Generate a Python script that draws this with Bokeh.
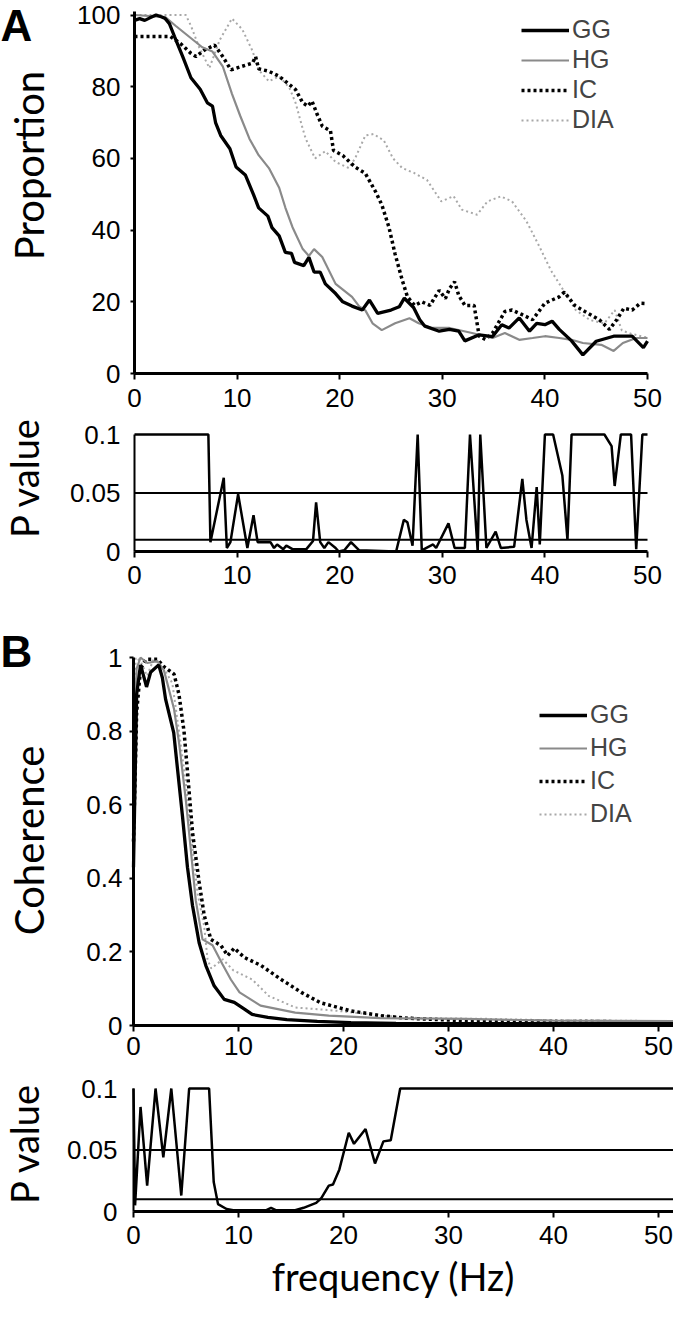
import math
from bokeh.plotting import figure
from bokeh.layouts import column
from bokeh.models import (Range1d, FixedTicker, Legend, LegendItem, Label,
                          CustomJSTickFormatter)
from bokeh.embed import file_html
from bokeh.resources import INLINE

# ---------------- data (frequency, value) ----------------
series_names = ["GG", "HG", "IC", "DIA"]

a_gg = [(0, 98.5), (0.5, 99), (1, 98.5), (1.5, 99.2), (2.1, 100), (2.6, 99.5), (3.0, 99),
        (3.4, 97.6), (3.9, 94), (4.7, 88.4), (5.5, 82.5), (6.4, 79.3), (7.1, 75.5), (7.6, 74.6),
        (7.9, 70), (8.4, 66.4), (9.3, 62.7), (9.9, 57.6), (10.8, 55.4), (11.6, 49.9), (12.1, 46.2),
        (13.0, 43.9), (13.4, 40.7), (14.1, 38.4), (14.7, 33.8), (15.3, 33.5), (15.6, 31),
        (16.5, 30.1), (17.0, 32.4), (17.5, 28.3), (18.1, 28.3), (18.6, 25), (19.6, 22.3),
        (20.3, 20), (21.2, 18.8), (22.2, 17.7), (22.9, 20.5), (23.7, 16.8), (25.0, 17.7),
        (25.8, 18.6), (26.3, 21), (27.2, 18.4), (27.8, 15), (28.3, 13.2), (29.7, 11.8),
        (30.7, 12.3), (31.6, 11.8), (32.2, 9.1), (33.6, 10.8), (34.9, 10.3), (35.8, 13.6),
        (36.5, 12.7), (37.5, 15.5), (38.5, 11.8), (39.2, 14), (40.0, 13.6), (40.7, 14.6),
        (41.4, 12.3), (42.6, 9.1), (43.7, 5.2), (45.0, 9), (46.7, 10.4), (48.5, 10.4),
        (49.6, 7.2), (50, 9)]
a_hg = [(0, 100), (3.0, 99.4), (4.0, 97), (5.3, 94), (6.6, 91), (7.6, 89.8), (8.6, 85.7),
        (9.5, 78), (10.3, 71.9), (11.2, 65.5), (12.1, 60.9), (13.1, 57.3), (14.1, 51.8),
        (14.7, 46.3), (15.4, 40.8), (16.4, 34.7), (17.0, 32.8), (17.5, 34.7), (18.3, 32.5),
        (19.6, 25), (21.2, 21.4), (21.9, 18.7), (22.5, 17.6), (23.2, 14), (24.1, 12.1),
        (25.4, 14), (26.8, 15.4), (27.7, 14), (29.0, 12.7), (30.7, 12.7), (32.9, 11.3),
        (34.9, 9.9), (36.1, 11.3), (37.5, 9.4), (38.8, 9.9), (40.0, 10.4), (41.4, 9.9),
        (42.6, 9.4), (43.7, 8.5), (45.5, 8), (46.7, 6.3), (47.6, 8.5), (48.9, 9.9), (50, 9.9)]
a_ic = [(0, 94), (3.5, 94), (4.5, 92), (5.5, 89.3), (6.0, 88.4), (6.8, 90.2), (7.8, 91.6),
        (8.6, 88.4), (9.4, 84.7), (10.5, 85.7), (11.5, 86.6), (11.8, 88.4), (12.1, 85),
        (13.1, 84.3), (14.1, 82.9), (15.1, 80.6), (15.7, 79.2), (16.4, 75.5), (16.9, 74.6),
        (17.3, 76), (17.8, 72.3), (18.3, 69), (19.1, 67.7), (19.4, 62.2), (20.3, 60.8),
        (21.5, 57.6), (22.5, 55.8), (23.5, 50.7), (24.1, 47.1), (24.8, 40.8), (25.4, 33.3),
        (26.1, 26), (26.6, 21.4), (27.3, 19), (28.0, 20), (28.8, 19), (29.7, 23.2),
        (30.3, 20.9), (30.7, 23.7), (31.2, 25.6), (31.6, 21.8), (32.2, 19), (33.1, 19),
        (33.6, 10.4), (34.2, 9.5), (34.9, 11.3), (36.1, 17.3), (36.8, 17.7), (37.8, 16.4),
        (38.8, 15), (40.0, 19.6), (41.4, 21.4), (41.9, 22.7), (42.9, 19), (43.9, 17.3),
        (45.3, 15), (46.3, 12.3), (47.0, 15), (47.7, 18.2), (48.5, 17.7), (49.3, 19.6),
        (50, 19.5)]
a_dia = [(0, 100), (5.0, 100), (5.5, 97), (6.3, 91), (7.3, 85.2), (8.3, 93), (9.5, 99),
         (10.5, 96), (11.5, 90), (12.1, 84.7), (13.1, 81.5), (14.1, 82.9), (15.1, 79.7),
         (15.7, 75.5), (16.4, 68.2), (16.7, 65.4), (17.6, 60), (18.6, 62), (19.6, 59),
         (20.9, 57.3), (21.5, 60), (22.5, 66.4), (23.3, 66.8), (24.3, 65), (25.2, 60),
         (26.1, 57.3), (27.2, 56), (28.5, 54), (29.9, 48), (31.1, 49.5), (31.9, 45.7),
         (33.4, 44.3), (34.4, 48), (35.7, 49.4), (36.8, 48), (38.2, 42.5), (39.5, 35.2),
         (40.6, 28.7), (42.0, 22.3), (43.0, 17.7), (44.4, 14.9), (45.8, 14), (46.8, 17.7),
         (47.5, 12), (48.5, 11), (50, 10)]
a_pval = [(0, 0.1), (7.2, 0.1), (7.4, 0.008), (8.7, 0.063), (9.0, 0.003), (9.35, 0.008),
          (10.1, 0.049), (11.0, 0.003), (11.6, 0.031), (12.0, 0.008), (13.25, 0.008),
          (13.6, 0.003), (13.9, 0.006), (14.5, 0.002), (14.8, 0.005), (15.4, 0.002),
          (16.75, 0.002), (17.4, 0.009), (17.7, 0.042), (18.1, 0.008), (18.5, 0.003),
          (18.9, 0.008), (19.6, 0.003), (19.9, 0.0), (20.45, 0.001), (21.1, 0.008),
          (21.9, 0.001), (25.5, 0.0), (26.25, 0.027), (26.6, 0.025), (27.1, 0.005),
          (27.6, 0.1), (28.0, 0.001), (29.1, 0.006), (29.4, 0.003), (30.6, 0.024),
          (31.2, 0.003), (32.2, 0.003), (32.7, 0.1), (33.45, 0.0), (33.7, 0.1), (34.3, 0.003),
          (35.2, 0.017), (35.7, 0.003), (37.0, 0.004), (37.8, 0.062), (38.2, 0.027),
          (38.7, 0.003), (39.2, 0.055), (39.5, 0.006), (40.0, 0.1), (40.8, 0.1), (41.7, 0.065),
          (42.2, 0.01), (42.6, 0.1), (45.8, 0.1), (46.5, 0.09), (46.8, 0.056), (47.4, 0.1),
          (48.4, 0.1), (48.9, 0.002), (49.5, 0.1), (50, 0.1)]

b_gg = [(0, 0.43), (0.3, 0.9), (0.67, 0.98), (0.96, 0.95), (1.24, 0.92), (1.63, 0.96),
        (2.4, 0.98), (2.75, 0.945), (3.06, 0.886), (3.83, 0.796), (4.18, 0.70), (4.66, 0.57),
        (5.14, 0.43), (5.62, 0.326), (6.25, 0.225), (6.89, 0.163), (7.68, 0.108),
        (8.64, 0.071), (9.6, 0.063), (10.6, 0.044), (11.3, 0.03), (12.8, 0.022), (14.6, 0.016),
        (17.5, 0.011), (20.7, 0.008), (25, 0.006), (30, 0.005), (40, 0.005), (51.5, 0.005)]
b_hg = [(0, 0.75), (0.3, 0.97), (0.67, 1.0), (1.3, 0.985), (2.27, 0.99), (2.9, 0.965),
        (3.86, 0.86), (4.33, 0.77), (4.98, 0.614), (5.45, 0.48), (5.93, 0.34), (6.57, 0.234),
        (7.53, 0.218), (8.46, 0.167), (9.27, 0.125), (10.1, 0.09), (12.1, 0.054),
        (15.4, 0.035), (18.6, 0.027), (23.5, 0.02), (31.6, 0.018), (40, 0.013), (51.5, 0.012)]
b_ic = [(0, 0.5), (0.3, 0.85), (0.67, 0.97), (1.2, 0.995), (2.27, 0.995), (2.9, 0.975),
        (3.86, 0.955), (4.33, 0.9), (4.81, 0.8), (5.14, 0.69), (5.62, 0.525), (6.25, 0.39),
        (6.73, 0.30), (7.37, 0.234), (8.33, 0.217), (8.97, 0.19), (9.6, 0.21), (10.55, 0.185),
        (12.15, 0.163), (14.07, 0.125), (15.98, 0.09), (17.8, 0.062), (20.65, 0.04),
        (23.5, 0.027), (25.9, 0.02), (31.6, 0.013), (40, 0.011), (51.5, 0.01)]
b_dia = [(0, 0.6), (0.2, 1.0), (0.67, 0.99), (1.3, 0.95), (1.9, 0.995), (2.9, 0.97),
         (3.7, 0.93), (4.33, 0.8), (4.98, 0.66), (5.45, 0.525), (6.1, 0.36), (6.73, 0.27),
         (7.05, 0.18), (7.4, 0.155), (8.5, 0.18), (9.5, 0.15), (11.3, 0.125), (12.9, 0.08),
         (15.4, 0.049), (19.4, 0.04), (23.5, 0.027), (27.4, 0.02), (33.7, 0.018), (40, 0.014),
         (51.5, 0.012)]
b_pval = [(0, 0.1), (0.15, 0.005), (0.67, 0.085), (1.3, 0.021), (2.1, 0.1), (2.84, 0.044),
          (3.6, 0.1), (4.55, 0.013), (5.3, 0.1), (7.2, 0.1), (7.64, 0.024), (8.05, 0.006),
          (8.86, 0.002), (9.5, 0.001), (12.6, 0.001), (13.1, 0.003), (13.6, 0.001),
          (15.4, 0.001), (16.2, 0.003), (17.4, 0.007), (17.9, 0.011), (18.6, 0.021),
          (19.0, 0.022), (19.6, 0.034), (20.5, 0.064), (21.0, 0.055), (22.1, 0.067),
          (23.0, 0.039), (23.8, 0.057), (24.5, 0.058), (25.4, 0.1), (51.5, 0.1)]

p_thresholds = [0.05, 0.01]
x_ticks = [0, 10, 20, 30, 40, 50]
a_y_ticks = [0, 20, 40, 60, 80, 100]
b_y_ticks = [0, 0.2, 0.4, 0.6, 0.8, 1]
p_y_ticks = [0, 0.05, 0.1]

# ---------------- layout constants (pixels) ----------------
W = 673
TICK_FONT = "Liberation Sans"
TITLE_FONT = "Lato"
styles = {
    "GG": dict(line_color="black", line_width=3.3),
    "HG": dict(line_color="#8a8a8a", line_width=2.2),
    "IC": dict(line_color="black", line_width=3.5, line_dash="3 3"),
    "DIA": dict(line_color="#a8a8a8", line_width=2.0, line_dash="2 3"),
}


def ranges(h, x0_px, xscale, y0_px, yscale):
    """Frame = whole canvas; x0_px/y0_px are canvas pixels of data 0."""
    xr = Range1d(-x0_px / xscale, (W - x0_px) / xscale)
    yr = Range1d(-(h - y0_px) / yscale, y0_px / yscale)
    return xr, yr


def base_fig(h, xr, yr, xbound, ybound):
    p = figure(width=W, height=h, x_range=xr, y_range=yr, output_backend="svg",
               toolbar_location=None, min_border_left=0, min_border_right=0,
               min_border_top=0, min_border_bottom=0)
    p.grid.visible = False
    p.outline_line_color = None
    for ax in (p.xaxis[0], p.yaxis[0]):
        ax.fixed_location = 0
        ax.axis_line_color = "black"
        ax.major_tick_line_color = "black"
        ax.major_tick_line_width = 2
        ax.major_tick_in = 0
        ax.minor_tick_line_color = None
        ax.major_label_text_font = TICK_FONT
        ax.major_label_text_font_size = "26px"
        ax.major_label_text_color = "black"
    p.xaxis.ticker = FixedTicker(ticks=x_ticks)
    p.xaxis.axis_line_width = 3
    p.xaxis.major_tick_out = 6
    p.xaxis.bounds = xbound
    p.yaxis.bounds = ybound
    return p


def side_title(p, text, x, y, size="40px"):
    p.add_layout(Label(x=x, y=y, text=text, angle=math.pi / 2, text_align="center",
                       text_baseline="middle", text_font=TITLE_FONT,
                       text_font_size=size, text_color="black"))


def panel_letter(p, text, x, y):
    p.add_layout(Label(x=x, y=y, text=text, text_font="Liberation Sans",
                       text_font_style="bold", text_font_size="44px",
                       text_baseline="middle", text_align="left", text_color="black"))


def add_series(p, data, loc, spacing):
    rs = {}
    for name in ["DIA", "IC", "HG", "GG"]:
        pts = data[name]
        rs[name] = p.line([q[0] for q in pts], [q[1] for q in pts], **styles[name])
    items = [LegendItem(label=n, renderers=[rs[n]]) for n in series_names]
    leg = Legend(items=items, location=loc, glyph_width=48, glyph_height=20,
                 label_height=20, spacing=spacing, padding=0, margin=0, label_standoff=3,
                 border_line_color=None, background_fill_alpha=0,
                 label_text_font=TICK_FONT, label_text_font_size="25px")
    p.add_layout(leg)


fmt = CustomJSTickFormatter(code="return tick.toString();")

# ---------------- A: proportion (page y0 = 8) ----------------
AX0, ASC = 134, 10.26
A_YSC = 3.585
h1 = 418
xr, yr = ranges(h1, AX0, ASC, 373, A_YSC)
p1 = base_fig(h1, xr, yr, (0, 50), (0, 101))
p1.yaxis.ticker = FixedTicker(ticks=a_y_ticks)
p1.yaxis.axis_line_width = 3
p1.yaxis.major_tick_out = 4
p1.yaxis.major_label_standoff = 10
p1.xaxis.major_label_standoff = 9
add_series(p1, {"GG": a_gg, "HG": a_hg, "IC": a_ic, "DIA": a_dia}, (521, 284), 1)
side_title(p1, "Proportion", (36 - 142) / ASC, (381 - 173) / A_YSC)
panel_letter(p1, "A", xr.start, (381 - 33) / A_YSC)

# ---------------- A: p value (page y0 = 426) ----------------
h2 = 186
xr2, yr2 = ranges(h2, AX0, ASC, 133, 1170)
p2 = base_fig(h2, xr2, yr2, (0, 50), (0, 0.1))
p2.yaxis.ticker = FixedTicker(ticks=p_y_ticks)
p2.yaxis.formatter = fmt
p2.yaxis.axis_line_width = 2
p2.yaxis.major_tick_out = 0
p2.yaxis.major_label_standoff = 14
p2.xaxis.major_label_standoff = 8
p2.segment(x0=[x_ticks[0]] * len(p_thresholds), x1=[x_ticks[-1]] * len(p_thresholds),
           y0=p_thresholds, y1=p_thresholds, line_color="black", line_width=2)
p2.line([q[0] for q in a_pval], [q[1] for q in a_pval], line_color="black", line_width=2.5)
side_title(p2, "P value", (31 - 142) / ASC, 0.0632, "38px")

# ---------------- B: coherence (page y0 = 612) ----------------
BX0, BSC = 133, 10.5
h3 = 466
xr3, yr3 = ranges(h3, BX0, BSC, 421, 368)
p3 = base_fig(h3, xr3, yr3, (0, xr3.end), (0, 1.0))
p3.yaxis.ticker = FixedTicker(ticks=b_y_ticks)
p3.yaxis.formatter = fmt
p3.yaxis.axis_line_width = 3
p3.yaxis.major_tick_out = 4
p3.yaxis.major_label_standoff = 7
p3.xaxis.major_label_standoff = 5
add_series(p3, {"GG": b_gg, "HG": b_hg, "IC": b_ic, "DIA": b_dia}, (539, 242), 4)
side_title(p3, "Coherence", (36 - 141) / BSC, 0.503)
panel_letter(p3, "B", xr3.start, (1033 - 659) / 368)

# ---------------- B: p value (page y0 = 1078) ----------------
h4 = 231
xr4, yr4 = ranges(h4, BX0, BSC, 141, 1230)
p4 = base_fig(h4, xr4, yr4, (0, xr4.end), (0, 0.1))
p4.yaxis.ticker = FixedTicker(ticks=p_y_ticks)
p4.yaxis.formatter = fmt
p4.yaxis.axis_line_width = 2
p4.yaxis.major_tick_out = 0
p4.yaxis.major_label_standoff = 16
p4.xaxis.major_label_standoff = 8
p4.segment(x0=[0] * len(p_thresholds), x1=[xr4.end] * len(p_thresholds),
           y0=p_thresholds, y1=p_thresholds, line_color="black", line_width=2)
p4.line([q[0] for q in b_pval], [q[1] for q in b_pval], line_color="black", line_width=2.5)
side_title(p4, "P value", (31 - 141) / BSC, 0.0553, "38px")
p4.add_layout(Label(x=24.76, y=(1219 - 1283) / 1230, text="frequency (Hz)",
                    text_align="center", text_baseline="middle", text_font=TITLE_FONT,
                    text_font_size="38px", text_color="black"))

layout = column(p1, p2, p3, p4)
open("out.html", "w").write(file_html(layout, INLINE))
